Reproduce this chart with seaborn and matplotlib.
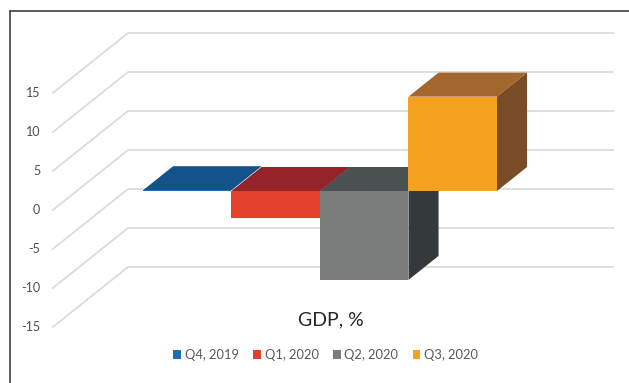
import numpy as np
import matplotlib
matplotlib.use("Agg")
import matplotlib.pyplot as plt
from matplotlib.patches import Patch
from matplotlib.lines import Line2D
import seaborn as sns

# dados (variacao do PIB, %)
quarters = ["Q4, 2019", "Q1, 2020", "Q2, 2020", "Q3, 2020"]
gdp = [0.1, -3.4, -11.4, 12.1]
ticks = [-15, -10, -5, 0, 5, 10, 15]

# cores: frente, topo, lateral
front_colors = ["#1F6EB4", "#E2402A", "#7B7C7C", "#F4A11D"]
top_colors = ["#13538A", "#94232A", "#4B5153", "#A2672C"]
side_colors = ["#0E3F69", "#6E1A1F", "#343A3B", "#774C26"]

sns.set_theme(style="white")
plt.rcParams['font.family'] = ['Lato', 'DejaVu Sans']

# projecao obliqua (profundidade total da parede)
DX, DY = 0.85, 7.7
FRONT = 0.32      # plano da frente das barras
BAR_D = 0.40      # profundidade das barras
WALL_L, WALL_R = -1.25, 4.25

fig = plt.figure(figsize=(6.29, 3.83), dpi=100)
ax = fig.add_axes([0, 0, 1, 1])

# grade: linhas da parede de fundo + diagonais da lateral
for t in ticks:
    bx, by = (1 - FRONT) * DX, t + (1 - FRONT) * DY
    fx, fy = WALL_L - FRONT * DX, t - FRONT * DY
    ax.plot([WALL_L + bx, WALL_R + bx], [by, by], color="#D9D9D9", lw=1.2, zorder=1,
            solid_capstyle="butt")
    ax.plot([fx, WALL_L + bx], [fy, by], color="#D9D9D9", lw=1.2, zorder=1)
    ax.text(fx - 0.14, fy, str(t), ha="right", va="center", fontsize=9, color="#4D4D4D")

# frentes das barras
sns.barplot(x=quarters, y=gdp, hue=quarters, palette=front_colors, width=1.0,
            saturation=1, dodge=False, linewidth=0, legend=False, ax=ax)
bars = list(ax.patches)

bdx, bdy = BAR_D * DX, BAR_D * DY
for i, (v, bar) in enumerate(zip(gdp, bars)):
    bar.set_zorder(3 + 2 * i)
    x0, x1 = i - 0.5, i + 0.5
    hi, lo = max(v, 0), min(v, 0)
    # topo
    ax.fill([x0, x1, x1 + bdx, x0 + bdx], [hi, hi, hi + bdy, hi + bdy],
            color=top_colors[i], lw=0, zorder=2 + 2 * i)
    # lateral
    if hi - lo > 0.3:
        ax.fill([x1, x1 + bdx, x1 + bdx, x1], [lo, lo + bdy, hi + bdy, hi],
                color=side_colors[i], lw=0, zorder=2 + 2 * i)

ax.set_xlim(-2.116, 4.992)
ax.set_ylim(-24.615, 24.49)
ax.axis("off")

fig.text(0.526, 0.164, "GDP, %", ha="center", va="center", fontsize=14, color="#262626")

handles = [Patch(facecolor=c, edgecolor="none", label=q) for q, c in zip(quarters, front_colors)]
fig.legend(handles=handles, loc="center", bbox_to_anchor=(0.518, 0.073), ncol=4, frameon=False,
           fontsize=9.3, handlelength=0.6, handleheight=0.6, handletextpad=0.3,
           columnspacing=1.1, labelcolor="#595959")

# moldura (esquerda e topo)
fig.add_artist(Line2D([10 / 629, 10 / 629], [0, 1 - 11 / 383], color="#404040", lw=1.2,
                      transform=fig.transFigure))
fig.add_artist(Line2D([10 / 629, 1], [1 - 11 / 383, 1 - 11 / 383], color="#404040", lw=1.2,
                      transform=fig.transFigure))

fig.savefig("out.png", dpi=100)
